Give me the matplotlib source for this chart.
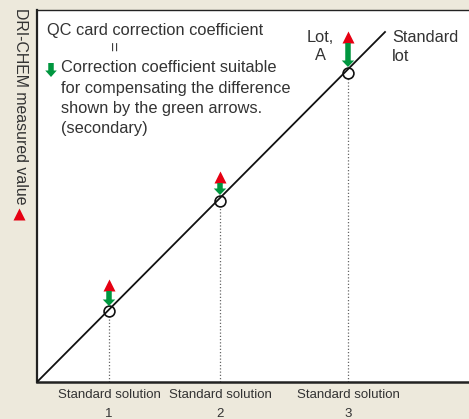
import matplotlib
matplotlib.use("Agg")
import matplotlib.pyplot as plt
from matplotlib import font_manager
from matplotlib.patches import FancyArrow

# ---- data ----
solution_labels = ["Standard solution\n1", "Standard solution\n2", "Standard solution\n3"]
solution_x = [0.72, 1.83, 3.11]          # standard solutions (x)
standard_lot = [0.71, 1.81, 3.09]        # measured value, standard lot (circles)
lot_a = [0.97, 2.05, 3.45]               # measured value, lot A (red triangles)
arrow_top = [0.91, 1.99, 3.39]           # green correction arrows
arrow_bottom = [0.76, 1.87, 3.15]
line_x = [0.0, 3.48]                     # standard lot line
line_y = [0.0, 3.50]

BG = "#ede9dc"
RED = "#e60012"
GREEN = "#00963f"
TXT = "#333333"

def has_font(name):
    try:
        font_manager.findfont(font_manager.FontProperties(family=name), fallback_to_default=False)
        return True
    except Exception:
        return False

MAIN = "Liberation Sans"
NARROW = "Liberation Sans Narrow" if has_font("Liberation Sans Narrow") else "Liberation Sans"
tick_size = 11.2 if NARROW == "Liberation Sans Narrow" else 9.5

plt.rcParams["font.family"] = [MAIN, "DejaVu Sans"]

W, H = 469, 419
fig = plt.figure(figsize=(W / 100, H / 100), dpi=100, facecolor=BG)
ax = fig.add_axes([37 / W, (H - 382) / H, 432 / W, 372 / H])
ax.set_facecolor("white")
ax.set_xlim(0, 4.32)
ax.set_ylim(0, 3.72)

ax.spines["right"].set_visible(False)
ax.spines["top"].set_linewidth(1.0)
ax.spines["top"].set_color("#222222")
ax.spines["left"].set_linewidth(1.6)
ax.spines["left"].set_color("#222222")
ax.spines["bottom"].set_linewidth(1.8)
ax.spines["bottom"].set_color("#222222")

ax.set_yticks([])
ax.set_xticks(solution_x, solution_labels)
ax.tick_params(axis="x", length=0, pad=5, labelsize=tick_size, labelcolor=TXT)
for lab in ax.get_xticklabels():
    lab.set_fontfamily(NARROW)
    lab.set_linespacing(1.75)

# standard lot line
ax.plot(line_x, line_y, color="#111111", lw=1.3, zorder=3)

# dotted drop lines
for x, y in zip(solution_x, standard_lot):
    ax.plot([x, x], [0, y - 0.05], color="#666666", lw=0.9, ls=(0, (1, 1.6)), zorder=2)

# circles
ax.plot(solution_x, standard_lot, "o", ms=7.8, mfc="none", mec="#111111", mew=1.2, zorder=4)

# red triangles (lot A)
ax.plot(solution_x, lot_a, "^", ms=9, color=RED, mec="none", zorder=5)

# green arrows
for x, t, b in zip(solution_x, arrow_top, arrow_bottom):
    ax.add_patch(FancyArrow(x, t, 0, b - t, width=0.055, head_width=0.125,
                            head_length=0.065, length_includes_head=True,
                            color=GREEN, lw=0, zorder=5))

# explanatory text
fs = 11.8
ax.text(0.10, 3.52, "QC card correction coefficient", fontsize=fs, color=TXT, ha="left", va="center")
ax.text(0.80, 3.355, "=", fontsize=12, color=TXT, ha="center", va="center", rotation=90)
ax.add_patch(FancyArrow(0.14, 3.19, 0, -0.14, width=0.055, head_width=0.115,
                        head_length=0.065, length_includes_head=True, color=GREEN, lw=0))
for yy, s in zip([3.14, 2.93, 2.735, 2.54],
                 ["Correction coefficient suitable", "for compensating the difference",
                  "shown by the green arrows.", "(secondary)"]):
    ax.text(0.24, yy, s, fontsize=fs, color=TXT, ha="left", va="center")

ax.text(2.83, 3.355, "Lot,\nA", fontsize=fs, color=TXT, ha="center", va="center", linespacing=1.3)
ax.text(3.55, 3.35, "Standard\nlot", fontsize=fs, color=TXT, ha="left", va="center", linespacing=1.3)

# y label
fig.text(20 / W, 1 - 8 / H, "DRI-CHEM measured value", rotation=270, fontsize=11.4,
         color=TXT, ha="center", va="top")
fig.lines.append(plt.Line2D([19 / W], [1 - 214 / H], marker="^", ms=9, color=RED,
                            mec="none", transform=fig.transFigure))

fig.savefig("out.png", dpi=100, facecolor=BG)
